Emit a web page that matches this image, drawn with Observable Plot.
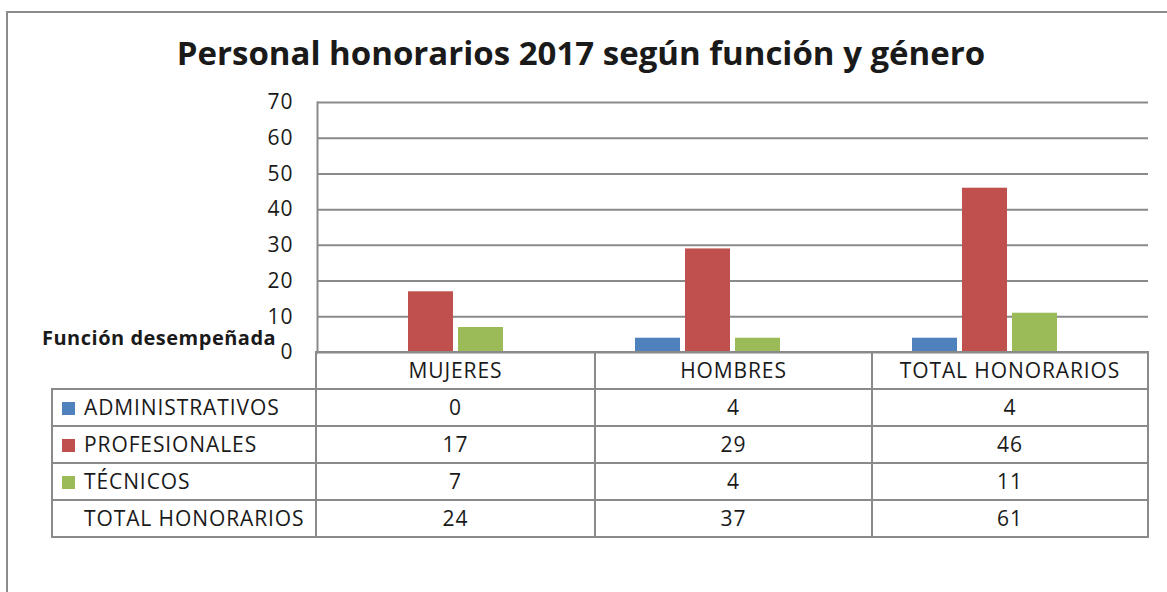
<!DOCTYPE html>
<html>
<head>
<meta charset="utf-8">
<script src="https://cdn.jsdelivr.net/npm/d3@7"></script>
<script src="https://cdn.jsdelivr.net/npm/@observablehq/plot@0.6"></script>
<style>
  html, body { margin: 0; padding: 0; background: #fff; }
  body { width: 1167px; height: 592px; position: relative; overflow: hidden; font-family: "Open Sans", sans-serif; color: #1a1a1a; }
  #frame { position: absolute; left: 6px; top: 11px; right: -10px; bottom: -10px; border-left: 2px solid #8c8c8c; border-top: 2px solid #8c8c8c; }
  #title { position: absolute; left: 0; width: 1162px; top: 31px; text-align: center; font-weight: 700; font-size: 33px; line-height: 44px; white-space: nowrap; }
  #chart { position: absolute; left: 0; top: 80px; }
  #axisTitle { position: absolute; left: 42px; top: 324px; font-weight: 700; font-size: 20px; letter-spacing: 0.5px; line-height: 28px; white-space: nowrap; }
  #tbl { position: absolute; left: 51px; top: 351px; border-collapse: collapse; table-layout: fixed; font-size: 21px; letter-spacing: 0.9px; }
  #tbl td { border: 2px solid #8a8a8a; height: 35px; padding: 0; text-align: center; white-space: nowrap; line-height: 35px; }
  #tbl td.lab { text-align: left; padding-left: 9px; }
  #tbl td.corner { border: none; }
  .key { display: inline-block; width: 13px; height: 13px; margin-right: 9px; vertical-align: 0px; }
  .nokey { display: inline-block; width: 13px; height: 13px; margin-right: 9px; }
</style>
</head>
<body>
<div id="frame"></div>
<div id="title">Personal honorarios 2017 según función y género</div>
<div id="chart"></div>
<div id="axisTitle">Función desempeñada</div>
<table id="tbl"></table>
<script>
// ---- data ----
const categories = ["MUJERES", "HOMBRES", "TOTAL HONORARIOS"];
const series = ["ADMINISTRATIVOS", "PROFESIONALES", "TÉCNICOS", "TOTAL HONORARIOS"];
const administrativos = [0, 4, 4];
const profesionales = [17, 29, 46];
const tecnicos = [7, 4, 11];
const totalHonorarios = [24, 37, 61];
const seriesColors = ["#4F81BD", "#C0504D", "#9BBB59", "none"];
const yTicks = [0, 10, 20, 30, 40, 50, 60, 70];

const seriesValues = [administrativos, profesionales, tecnicos, totalHonorarios];
const rows = [];
series.forEach((s, i) => categories.forEach((c, j) => rows.push({category: c, series: s, value: seriesValues[i][j]})));

const plot = Plot.plot({
  width: 1167,
  height: 290,
  marginTop: 22,
  marginBottom: 18,
  marginLeft: 316,
  marginRight: 18,
  fx: {domain: categories, padding: 0, axis: null},
  x: {domain: series, paddingInner: 0.098, paddingOuter: 0.771, axis: null},
  y: {domain: [0, 70], ticks: yTicks},
  color: {domain: series, range: seriesColors},
  style: {fontFamily: "Open Sans", fontSize: "21px", color: "#1a1a1a", background: "transparent", overflow: "visible", letterSpacing: "1px"},
  marks: [
    Plot.ruleY(yTicks, {stroke: "#8a8a8a", strokeWidth: 2}),
    Plot.frame({anchor: "left", facetAnchor: "left", stroke: "#8a8a8a", strokeWidth: 2}),
    Plot.barY(rows.filter(d => d.series !== "TOTAL HONORARIOS" && d.value > 0), {fx: "category", x: "series", y: "value", fill: "series"}),
    Plot.axisY({ticks: yTicks, tickSize: 0, tickPadding: 24, fontSize: 21, fill: "#1a1a1a", label: null})
  ]
});
document.getElementById("chart").appendChild(plot);

// ---- data table under the chart ----
const tbl = document.getElementById("tbl");
const colW = [264, 279, 277, 276];
const colgroup = document.createElement("colgroup");
colW.forEach(w => { const c = document.createElement("col"); c.style.width = w + "px"; colgroup.appendChild(c); });
tbl.appendChild(colgroup);
const head = document.createElement("tr");
const corner = document.createElement("td"); corner.className = "corner"; head.appendChild(corner);
categories.forEach(c => { const td = document.createElement("td"); td.textContent = c; head.appendChild(td); });
tbl.appendChild(head);
series.forEach((s, i) => {
  const tr = document.createElement("tr");
  const lab = document.createElement("td"); lab.className = "lab";
  const key = document.createElement("span");
  if (seriesColors[i] !== "none") { key.className = "key"; key.style.background = seriesColors[i]; } else { key.className = "nokey"; }
  lab.appendChild(key);
  lab.appendChild(document.createTextNode(s));
  tr.appendChild(lab);
  seriesValues[i].forEach(v => { const td = document.createElement("td"); td.textContent = v; tr.appendChild(td); });
  tbl.appendChild(tr);
});
</script>
</body>
</html>
